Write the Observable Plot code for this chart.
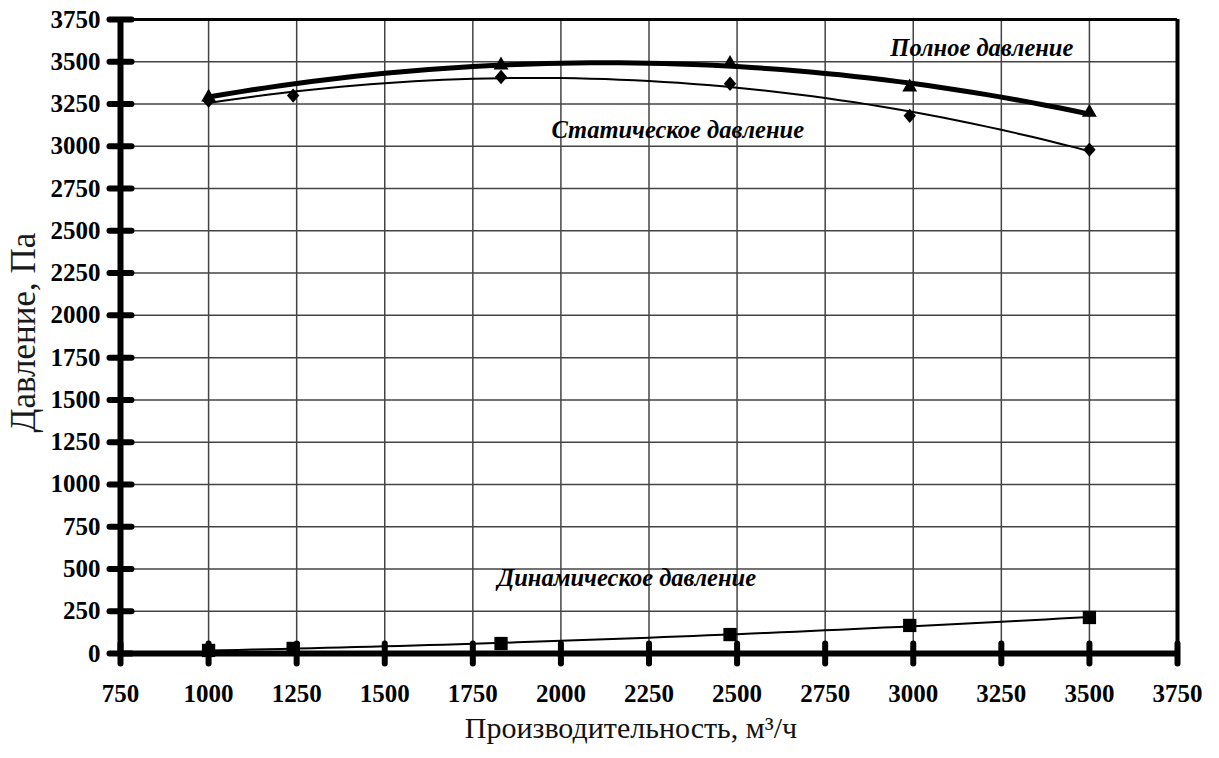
<!DOCTYPE html>
<html><head><meta charset="utf-8">
<script src="https://cdn.jsdelivr.net/npm/d3@7"></script>
<script src="https://cdn.jsdelivr.net/npm/@observablehq/plot@0.6"></script>
<style>body{margin:0;background:#fff} svg text{font-family:"Liberation Serif","Times New Roman",serif !important;}</style>
</head><body><div id="chart"></div>
<script>
// Data
const flowTotal = [1000, 1830, 2480, 2990, 3500];
const pressTotal = [3290, 3480, 3490, 3350, 3200];
const flowStatic = [1000, 1240, 1830, 2480, 2990, 3500];
const pressStatic = [3270, 3300, 3410, 3370, 3180, 2980];
const flowDyn = [1000, 1240, 1830, 2480, 2990, 3500];
const pressDyn = [18, 30, 59, 112, 166, 213];
const xTicks = [750,1000,1250,1500,1750,2000,2250,2500,2750,3000,3250,3500,3750];
const yTicks = [0,250,500,750,1000,1250,1500,1750,2000,2250,2500,2750,3000,3250,3500,3750];
const labelTotal = "Полное давление";
const labelStatic = "Статическое давление";
const labelDyn = "Динамическое давление";
const xTitle = "Производительность, м³/ч";
const yTitle = "Давление, Па";

// quadratic least-squares trendline (like spreadsheet polynomial trendline)
function quadFit(xs, ys) {
  const s = 1000;
  let S = [0,0,0,0,0], T = [0,0,0];
  xs.forEach((x0, i) => { const x = x0 / s, y = ys[i];
    for (let k = 0; k < 5; k++) S[k] += x ** k;
    for (let k = 0; k < 3; k++) T[k] += y * x ** k; });
  const A = [[S[0],S[1],S[2],T[0]],[S[1],S[2],S[3],T[1]],[S[2],S[3],S[4],T[2]]];
  for (let i = 0; i < 3; i++) { for (let j = i+1; j < 3; j++) { const f = A[j][i]/A[i][i]; for (let k = i; k < 4; k++) A[j][k] -= f*A[i][k]; } }
  const c = [0,0,0];
  for (let i = 2; i >= 0; i--) { let v = A[i][3]; for (let k = i+1; k < 3; k++) v -= A[i][k]*c[k]; c[i] = v/A[i][i]; }
  const x0 = d3.min(xs), x1 = d3.max(xs);
  return d3.range(0, 61).map(i => { const x = x0 + (x1 - x0) * i / 60, u = x / s; return {x, y: c[0] + c[1]*u + c[2]*u*u}; });
}
const pts = (xs, ys) => xs.map((x, i) => ({x, y: ys[i]}));
const total = pts(flowTotal, pressTotal), stat = pts(flowStatic, pressStatic), dyn = pts(flowDyn, pressDyn);

const hTick = {draw(ctx, size){ const r = Math.sqrt(size/Math.PI); ctx.moveTo(-r,0); ctx.lineTo(r,0); }};
const vTick = {draw(ctx, size){ const r = Math.sqrt(size/Math.PI); ctx.moveTo(0,-r); ctx.lineTo(0,r); }};
const diamond = {draw(ctx, size){ const r = Math.sqrt(size/Math.PI); ctx.moveTo(0,-r*1.1); ctx.lineTo(r*0.95,0); ctx.lineTo(0,r*1.1); ctx.lineTo(-r*0.95,0); ctx.closePath(); }};
const ff = "Liberation Serif, Times New Roman, serif";

const chart = Plot.plot({
  width: 1219, height: 758,
  marginLeft: 120, marginRight: 42, marginTop: 19, marginBottom: 105,
  style: {fontFamily: ff, background: "#fff", color: "#000"},
  x: {domain: [750, 3750]},
  y: {domain: [0, 3750]},
  marks: [
    Plot.ruleX(xTicks.slice(1, -1), {stroke: "#444", strokeWidth: 1.5}),
    Plot.ruleY(yTicks.slice(1, -1), {stroke: "#444", strokeWidth: 1.5}),
    Plot.ruleY([3750], {stroke: "#000", strokeWidth: 3}),
    Plot.ruleX([3750], {stroke: "#000", strokeWidth: 4}),
    Plot.ruleX([750], {stroke: "#000", strokeWidth: 6}),
    Plot.ruleY([0], {stroke: "#000", strokeWidth: 6}),
    Plot.dot(yTicks, {x: () => 750, y: d => d, symbol: hTick, r: 11, stroke: "#000", strokeWidth: 6, strokeLinecap: "round"}),
    Plot.dot(xTicks, {x: d => d, y: () => 0, symbol: vTick, r: 10, stroke: "#000", strokeWidth: 6, strokeLinecap: "round"}),
    Plot.axisY(yTicks, {tickSize: 0, tickPadding: 20, fontSize: 25, fontWeight: "bold", fontFamily: ff, tickFormat: d => String(d), label: null}),
    Plot.axisX(xTicks, {tickSize: 0, tickPadding: 31, fontSize: 25, fontWeight: "bold", fontFamily: ff, tickFormat: d => String(d), label: null}),
    Plot.text([yTitle], {frameAnchor: "left", textAnchor: "middle", dx: -97, dy: -4, rotate: -90, fontSize: 35, fontFamily: ff, fill: "#1a1a1a"}),
    Plot.text([xTitle], {frameAnchor: "bottom", dx: -18, dy: 84, fontSize: 30, fontFamily: ff, fill: "#111"}),
    Plot.line(quadFit(flowTotal, pressTotal), {x: "x", y: "y", stroke: "#000", strokeWidth: 5}),
    Plot.line(quadFit(flowStatic, pressStatic), {x: "x", y: "y", stroke: "#000", strokeWidth: 2}),
    Plot.line(quadFit(flowDyn, pressDyn), {x: "x", y: "y", stroke: "#000", strokeWidth: 2}),
    Plot.dot(total, {x: "x", y: "y", symbol: "triangle", r: 5.5, fill: "#000"}),
    Plot.dot(stat, {x: "x", y: "y", symbol: diamond, r: 6.5, fill: "#000"}),
    Plot.dot(dyn, {x: "x", y: "y", symbol: "square", r: 7.5, fill: "#000"}),
    Plot.text([labelTotal], {x: () => 2935, y: () => 3578, textAnchor: "start", fontSize: 24.5, fontFamily: ff, fontStyle: "italic", fontWeight: "bold"}),
    Plot.text([labelStatic], {x: () => 1973, y: () => 3093, textAnchor: "start", fontSize: 24.5, fontFamily: ff, fontStyle: "italic", fontWeight: "bold"}),
    Plot.text([labelDyn], {x: () => 1820, y: () => 444, textAnchor: "start", fontSize: 24.5, fontFamily: ff, fontStyle: "italic", fontWeight: "bold"})
  ]
});
document.getElementById("chart").append(chart);
</script>
</body></html>
